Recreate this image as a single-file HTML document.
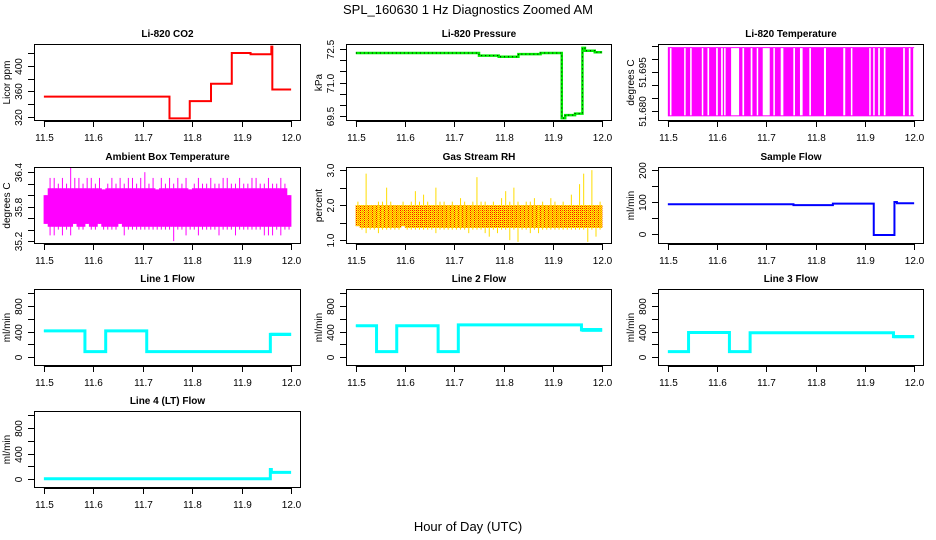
<!DOCTYPE html>
<html><head><meta charset="utf-8"><style>
html,body{margin:0;padding:0;background:#fff;}
svg{display:block;font-family:"Liberation Sans",sans-serif;}
</style></head><body>
<svg id="chart" width="936" height="540" viewBox="0 0 936 540" xmlns="http://www.w3.org/2000/svg">
<defs>
<pattern id="rhpat" width="2" height="2" patternUnits="userSpaceOnUse">
<rect width="2" height="2" fill="#ffff00"/><rect width="1" height="1" fill="#ff0000"/><rect x="1" y="1" width="1" height="1" fill="#ff0000" opacity="0.5"/>
</pattern>
</defs>
<text x="468" y="14" font-size="13" text-anchor="middle">SPL_160630  1 Hz Diagnostics Zoomed AM</text>
<text x="468" y="531" font-size="13" text-anchor="middle">Hour of Day (UTC)</text>
</svg>
<script>
// ---- data ----
const xTicks = [11.5, 11.6, 11.7, 11.8, 11.9, 12.0];
const xTickLabels = ["11.5", "11.6", "11.7", "11.8", "11.9", "12.0"];

const co2Times = [11.5, 11.754, 11.795, 11.838, 11.880, 11.918, 11.960, 11.962];
const co2Values = [352, 318, 345, 372, 420, 418, 430, 363];

const presTimes = [11.5, 11.75, 11.79, 11.83, 11.875, 11.918, 11.925, 11.945, 11.960, 11.965, 11.985];
const presValues = [72.32, 72.2, 72.15, 72.27, 72.32, 69.42, 69.55, 69.62, 72.55, 72.42, 72.35];

const tempGaps = [[11.5041,11.5074],[11.5331,11.5345],[11.5453,11.5480],[11.5689,11.5709],[11.5804,11.5838],[11.5980,11.6014],[11.6081,11.6115],[11.6142,11.6162],[11.6284,11.6446],[11.6514,11.6548],[11.6682,11.6716],[11.6804,11.6824],[11.6926,11.7068],[11.7142,11.7169],[11.7291,11.7345],[11.7547,11.7581],[11.7682,11.7736],[11.7872,11.7905],[11.8169,11.8210],[11.8561,11.8601],[11.8716,11.8743],[11.9088,11.9115],[11.9169,11.9196],[11.9270,11.9304],[11.9385,11.9419],[11.9777,11.9811],[11.9892,11.9926],[11.9980,12.0]];
const tempHigh = 51.7046;
const tempLow = 51.678;

const ambHi = [36.0,36.3,36.3,36.2,36.3,36.2,36.5,36.3,36.3,36.2,36.3,36.3,36.2,36.3,36.1,36.2,36.3,36.2,36.3,36.2,36.3,36.3,36.2,36.3,36.4,36.2,36.3,36.1,36.3,36.2,36.3,36.2,36.3,36.2,36.3,36.1,36.2,36.3,36.2,36.2,36.3,36.2,36.2,36.3,36.3,36.2,36.2,36.3,36.2,36.2,36.3,36.3,36.2,36.2,36.3,36.2,36.2,36.3,36.2,36.0];
const ambLo = [35.5,35.3,35.3,35.4,35.3,35.4,35.3,35.5,35.4,35.4,35.5,35.4,35.4,35.5,35.4,35.4,35.4,35.4,35.5,35.3,35.4,35.4,35.4,35.4,35.4,35.4,35.4,35.4,35.4,35.4,35.4,35.2,35.4,35.4,35.3,35.4,35.4,35.3,35.4,35.4,35.4,35.4,35.3,35.4,35.4,35.4,35.3,35.4,35.4,35.4,35.4,35.4,35.4,35.3,35.3,35.3,35.4,35.3,35.4,35.4];

const rhHi = [2.1,2.0,2.9,2.0,2.0,2.1,2.1,2.5,2.1,2.0,2.0,2.1,2.0,2.1,2.4,2.1,2.3,2.1,2.0,2.5,2.1,2.1,2.0,2.1,2.0,2.2,2.1,2.0,2.1,2.8,2.1,2.1,2.0,2.1,2.0,2.2,2.4,2.1,2.5,2.1,2.0,2.1,2.1,2.2,2.0,2.1,2.0,2.2,2.1,2.0,2.1,2.0,2.3,2.0,2.6,2.9,2.0,3.0,2.0,2.1];
const rhLo = [1.4,1.3,1.2,1.3,1.3,1.2,1.3,1.3,1.3,1.3,1.3,1.4,1.3,1.3,1.3,1.3,1.3,1.3,1.3,1.2,1.3,1.3,1.3,1.3,1.3,1.3,1.3,1.2,1.3,1.3,1.3,1.2,1.1,1.3,1.2,1.3,1.3,1.0,1.3,0.95,1.3,1.3,1.2,1.3,1.2,1.3,1.3,1.3,1.3,1.3,1.3,1.3,1.3,1.3,1.3,1.3,0.95,1.3,1.1,1.3];

const sampleTimes = [11.5, 11.755, 11.835, 11.918, 11.960, 11.965];
const sampleValues = [93, 90, 95, -3, 100, 96];

const line1Times = [11.5, 11.583, 11.625, 11.708, 11.958];
const line1Values = [410, 85, 410, 85, 355];
const line1Spread = [30, 0, 30, 0, 50];

const line2Times = [11.5, 11.542, 11.583, 11.667, 11.708, 11.958];
const line2Values = [490, 85, 490, 85, 505, 425];
const line2Spread = [30, 0, 30, 0, 20, 60];

const line3Times = [11.5, 11.542, 11.625, 11.667, 11.958];
const line3Values = [85, 385, 85, 380, 320];
const line3Spread = [0, 30, 0, 20, 50];

const line4Times = [11.5, 11.958, 11.960];
const line4Values = [5, 150, 105];
const line4Spread = [0, 0, 0];

// ---- layout ----
const NS = "http://www.w3.org/2000/svg";
const svg = document.getElementById('chart');
const colX = [[34,301],[346,612],[658,924]];
const rowY = [[44,121],[167,244],[289,366],[411,488]];
function mk(tag, attrs, parent){
  const e = document.createElementNS(NS, tag);
  for (const k in attrs) e.setAttribute(k, attrs[k]);
  (parent||svg).appendChild(e);
  return e;
}
function panel(name, title, col, row, ymin, ymax, yTicks, yLabels, ylab){
  const [x0,x1] = colX[col], [y0,y1] = rowY[row];
  const g = mk('g', {});
  
  
  const pad = (x1-x0)*0.04/1.08;
  const sx = v => x0 + pad + (v-11.5)/0.5*(x1-x0-2*pad);
  const sy = v => y1 - (v-ymin)/(ymax-ymin)*(y1-y0);
  const t = mk('text', {x:(x0+x1)/2, y:y0-7, 'font-size':10, 'font-weight':'bold', 'text-anchor':'middle'}, g);
  t.textContent = title;
  
  
  const plot = mk('g', {}, g);
  
  
  const clip = 'clip-' + name;
  const cp = mk('clipPath', {id:clip}, g);
  mk('rect', {x:x0, y:y0, width:x1-x0, height:y1-y0}, cp);
  plot.setAttribute('clip-path', 'url(#'+clip+')');
  const ax = mk('g', {stroke:'#000', 'stroke-width':1, fill:'none'}, g);
  
  
  mk('rect', {x:x0+0.5, y:y0+0.5, width:x1-x0-1, height:y1-y0-1}, ax);
  mk('line', {x1:sx(xTicks[0]), x2:sx(xTicks[xTicks.length-1]), y1:y1+0.5, y2:y1+0.5}, ax);
  xTicks.forEach((v,i)=>{
    const x = Math.round(sx(v))+0.5;
    mk('line', {x1:x, x2:x, y1:y1, y2:y1+6}, ax);
    const l = mk('text', {x:x, y:y1+20, 'font-size':10, 'text-anchor':'middle', stroke:'none', fill:'#000'}, g);
    l.textContent = xTickLabels[i];
    
    
  });
  mk('line', {x1:x0+0.5, x2:x0+0.5, y1:sy(yTicks[0]), y2:sy(yTicks[yTicks.length-1])}, ax);
  yTicks.forEach((v,i)=>{
    const y = Math.round(sy(v))+0.5;
    mk('line', {x1:x0-6, x2:x0, y1:y, y2:y}, ax);
    if (yLabels[i]) {
      const l = mk('text', {x:0, y:0, 'font-size':10, 'text-anchor':'middle', transform:`translate(${x0-12},${y}) rotate(-90)`}, g);
      l.textContent = yLabels[i];
      
      
    }
  });
  const yl = mk('text', {x:0, y:0, 'font-size':10, 'text-anchor':'middle', transform:`translate(${x0-24},${(y0+y1)/2}) rotate(-90)`}, g);
  yl.textContent = ylab;
  
  
  return {sx, sy, plot};
}
function stepPath(p, times, vals){
  let d = '';
  times.forEach((t,i)=>{
    const x = p.sx(t), y = p.sy(vals[i]);
    const xe = p.sx(i+1<times.length ? times[i+1] : 12.0);
    d += (i===0 ? 'M' : 'L') + x + ' ' + y + ' L' + xe + ' ' + y + ' ';
  });
  return d;
}
function stepSeries(p, times, vals, color, w, name){
  const e = mk('path', {d:stepPath(p,times,vals), stroke:color, 'stroke-width':w, fill:'none'}, p.plot);
  
  
  return e;
}
function flowSeries(p, times, vals, spread, name){
  times.forEach((t,i)=>{
    if (spread[i] > 0) {
      const xe = i+1<times.length ? times[i+1] : 12.0;
      const r = mk('rect', {x:p.sx(t), y:p.sy(vals[i]+spread[i]/2), width:p.sx(xe)-p.sx(t), height:p.sy(vals[i]-spread[i]/2)-p.sy(vals[i]+spread[i]/2), fill:'#00ffff'}, p.plot);
      
      
    }
  });
  stepSeries(p, times, vals, '#00ffff', 3, name);
}
function bandSeries(p, lo, hi, coreLo, coreHi, fill, name){
  const n = lo.length, step = 0.5/n;
  for (let i=0;i<n;i++){
    const t0 = 11.5 + i*step, t1 = t0 + step;
    const a = Math.max(lo[i], coreLo), b = Math.min(hi[i], coreHi);
    const r = mk('rect', {x:p.sx(t0)-0.3, y:p.sy(b), width:p.sx(t1)-p.sx(t0)+0.6, height:p.sy(a)-p.sy(b), fill:fill}, p.plot);
    
    
    const xm = p.sx(t0 + step/2);
    const l = mk('line', {x1:xm, x2:xm, y1:p.sy(lo[i]), y2:p.sy(hi[i]), stroke:fill, 'stroke-width':1}, p.plot);
    
    
  }
}

let p = panel('co2', 'Li-820 CO2', 0, 0, 314, 434, [320,340,360,380,400,420], ['320','','360','','400',''], 'Licor ppm');
stepSeries(p, co2Times, co2Values, '#ff0000', 2, 'co2-line');
p = panel('pressure', 'Li-820 Pressure', 1, 0, 69.29, 72.72, [69.5,70,70.5,71,71.5,72,72.5], ['69.5','','','71.0','','','72.5'], 'kPa');
stepSeries(p, presTimes, presValues, '#00ee00', 2.5, 'pressure-line');
stepSeries(p, presTimes, presValues, '#000', 1, 'pressure-dots').setAttribute('stroke-dasharray', '1 3');
p = panel('li820-temp', 'Li-820 Temperature', 2, 0, 51.6762, 51.7058, [51.680,51.685,51.690,51.695,51.700,51.705], ['51.680','','','51.695','',''], 'degrees C');
{
  const r = mk('rect', {x:p.sx(11.5), y:p.sy(tempHigh), width:p.sx(12.0)-p.sx(11.5), height:p.sy(tempLow)-p.sy(tempHigh), fill:'#ff00ff'}, p.plot);
  
  
  tempGaps.forEach(g=>{
    const q = mk('rect', {x:p.sx(g[0]), y:p.sy(tempHigh)+1, width:Math.max(1.5, p.sx(g[1])-p.sx(g[0])), height:p.sy(tempLow)-p.sy(tempHigh)-2, fill:'#fff'}, p.plot);
    
    
  });
}
p = panel('ambient', 'Ambient Box Temperature', 0, 1, 35.15, 36.49, [35.2,35.4,35.6,35.8,36.0,36.2,36.4], ['35.2','','','35.8','','','36.4'], 'degrees C');
bandSeries(p, ambLo, ambHi, 35.45, 36.12, '#ff00ff', 'ambient');
p = panel('rh', 'Gas Stream RH', 1, 1, 0.89, 3.09, [1.0,1.5,2.0,2.5,3.0], ['1.0','','2.0','','3.0'], 'percent');
bandSeries(p, rhLo, rhHi, 1.35, 2.0, '#ffdd00', 'rh');
p.plot.querySelectorAll('rect').forEach(r=>r.setAttribute('fill','url(#rhpat)'));
p = panel('sample-flow', 'Sample Flow', 2, 1, -31, 209, [0,50,100,150,200], ['0','','100','','200'], 'ml/min');
stepSeries(p, sampleTimes, sampleValues, '#0000ff', 2, 'sample-flow-line');
const fT = [0,200,400,600,800,1000], fL = ['0','','400','','800',''];
p = panel('line1', 'Line 1 Flow', 0, 2, -140, 1066, fT, fL, 'ml/min');
flowSeries(p, line1Times, line1Values, line1Spread, 'line1-flow');
p = panel('line2', 'Line 2 Flow', 1, 2, -140, 1066, fT, fL, 'ml/min');
flowSeries(p, line2Times, line2Values, line2Spread, 'line2-flow');
p = panel('line3', 'Line 3 Flow', 2, 2, -140, 1066, fT, fL, 'ml/min');
flowSeries(p, line3Times, line3Values, line3Spread, 'line3-flow');
p = panel('line4', 'Line 4 (LT) Flow', 0, 3, -140, 1066, fT, fL, 'ml/min');
flowSeries(p, line4Times, line4Values, line4Spread, 'line4-flow');
</script>
</body></html>
